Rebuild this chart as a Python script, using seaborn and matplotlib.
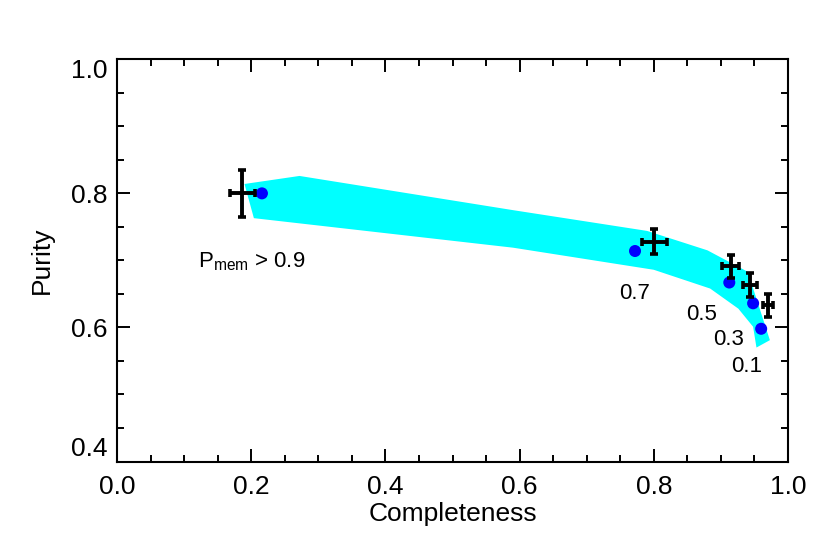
import numpy as np
import pandas as pd
import matplotlib
matplotlib.use('Agg')
import matplotlib.pyplot as plt
import seaborn as sns

# membership-probability cuts: completeness / purity
pmem_cut = ['> 0.9', '0.7', '0.5', '0.3', '0.1']

# measured points with error bars (black crosses)
comp_obs = [0.187, 0.801, 0.9146, 0.9434, 0.9706]
comp_err = [0.018, 0.0186, 0.013, 0.0107, 0.0075]
pur_obs = [0.800, 0.728, 0.691, 0.663, 0.633]
pur_err = [0.035, 0.019, 0.0174, 0.018, 0.017]

# model points (blue dots)
comp_mod = [0.216, 0.772, 0.9125, 0.948, 0.960]
pur_mod = [0.800, 0.714, 0.667, 0.636, 0.598]

# cyan band outline (upper edge left->right, then lower edge right->left)
band_x = [0.190, 0.272, 0.590, 0.790, 0.880, 0.940, 0.973,
          0.953, 0.948, 0.926, 0.884, 0.800, 0.590, 0.204]
band_y = [0.814, 0.826, 0.775, 0.744, 0.715, 0.683, 0.581,
          0.570, 0.601, 0.628, 0.658, 0.686, 0.719, 0.763]

# label positions for each cut
lab_x = [0.120, 0.771, 0.871, 0.911, 0.939]
lab_y = [0.689, 0.651, 0.620, 0.582, 0.542]

df_mod = pd.DataFrame({'comp': comp_mod, 'pur': pur_mod})

sns.set_style("ticks")
plt.rcParams['font.family'] = ['Liberation Sans', 'DejaVu Sans']
plt.rcParams['mathtext.fontset'] = 'custom'
plt.rcParams['mathtext.rm'] = 'Liberation Sans'
plt.rcParams['mathtext.it'] = 'Liberation Sans'
for k in ['text.color', 'axes.labelcolor', 'xtick.color', 'ytick.color']:
    plt.rcParams[k] = 'black'

fig = plt.figure(figsize=(8.3, 5.54), dpi=100)
ax = fig.add_axes([117 / 830, 1 - 461.5 / 554, 671 / 830, 402.2 / 554])

ax.fill(band_x, band_y, color='#00ffff', lw=0, zorder=1)

sns.scatterplot(x='comp', y='pur', data=df_mod, color='#0000ff', s=75,
                edgecolor='none', zorder=3, ax=ax)

ax.errorbar(comp_obs, pur_obs, xerr=comp_err, yerr=pur_err, fmt='none',
            ecolor='black', elinewidth=2.8, capsize=3, capthick=2.6, zorder=4)

# cut labels
ax.text(lab_x[0], lab_y[0], r'P$_{\rm mem}$ ' + pmem_cut[0], fontsize=16,
        ha='left', va='baseline')
for lx, ly, t in zip(lab_x[1:], lab_y[1:], pmem_cut[1:]):
    ax.text(lx, ly, t, fontsize=16, ha='center', va='center')

ax.set_xlim(0, 1)
ax.set_ylim(0.4, 1.0)
ax.set_xticks(np.arange(0, 1.01, 0.2))
ax.set_yticks(np.arange(0.4, 1.01, 0.2))
ax.set_xticks(np.arange(0, 1.001, 0.05), minor=True)
ax.set_yticks(np.arange(0.4, 1.001, 0.05), minor=True)
ax.set_xticklabels(['0.0', '0.2', '0.4', '0.6', '0.8', '1.0'])
ax.set_yticklabels(['0.4', '0.6', '0.8', '1.0'])

ax.tick_params(which='both', direction='in', top=True, right=True,
               width=1.4, color='black')
ax.tick_params(which='major', length=9.5, labelsize=19)
ax.tick_params(axis='x', which='major', pad=10)
ax.tick_params(axis='y', which='major', pad=7)
ax.tick_params(which='minor', length=5)

for sp in ax.spines.values():
    sp.set_linewidth(1.5)
    sp.set_color('black')

ylabs = ax.get_yticklabels()
ylabs[0].set_va('bottom')
ylabs[-1].set_va('top')

ax.set_xlabel('Completeness', fontsize=19, labelpad=2)
ax.set_ylabel('Purity', fontsize=19, labelpad=12)

plt.savefig('out.png', dpi=100)
